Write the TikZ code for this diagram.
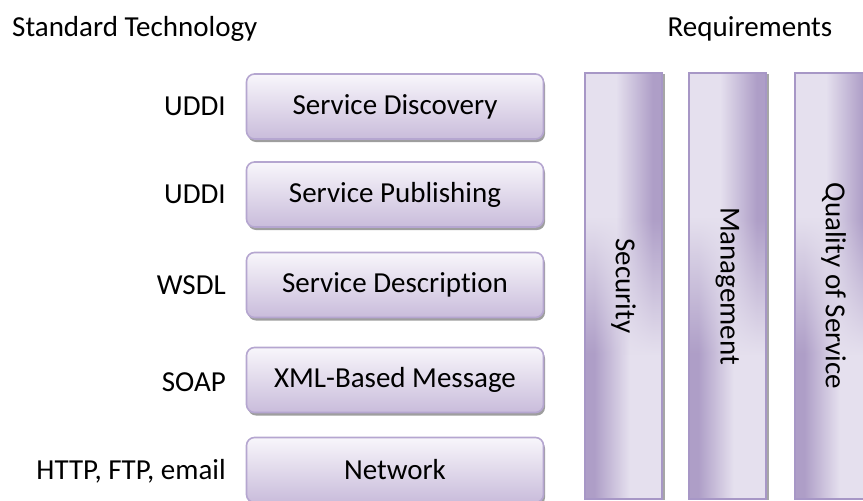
\documentclass[tikz,border=0pt]{standalone}
\usepackage{fontspec}
\setmainfont{Carlito}[Ligatures=CommonOff]
\usepackage{graphicx}
\usetikzlibrary{shadows,fadings}

% palette
\definecolor{boxtop}{HTML}{F8F6FB}
\definecolor{boxbot}{HTML}{C9BCDB}
\definecolor{boxline}{HTML}{B5A6D0}
\definecolor{colL}{HTML}{E5E0EE}
\definecolor{colD}{HTML}{AE9EC7}
\definecolor{colline}{HTML}{A797C6}

% requirement columns: lower layer runs dark->light, upper layer light->dark
\pgfdeclarehorizontalshading{colupper}{100bp}{color(0bp)=(colL); color(45bp)=(colL); color(69bp)=(colD); color(100bp)=(colD)}
\pgfdeclarehorizontalshading{collower}{100bp}{color(0bp)=(colD); color(31bp)=(colD); color(54bp)=(colL); color(100bp)=(colL)}
% upper layer is visible at the top and fades out towards the bottom
\pgfdeclareverticalshading{keeptopsh}{100bp}{color(0bp)=(pgftransparent!100); color(42bp)=(pgftransparent!100); color(58bp)=(pgftransparent!0); color(100bp)=(pgftransparent!0)}
\pgfdeclarefading{keeptop}{\pgfuseshading{keeptopsh}}

\tikzset{
  txt/.style={font=\fontsize{29}{35}\selectfont, text=black},
  layerbox/.style={txt, draw=boxline, line width=1.6pt, rounded corners=8pt,
    top color=boxtop, bottom color=boxbot,
    minimum width=297pt, minimum height=65pt, inner sep=0pt,
    drop shadow={shadow xshift=1.5pt, shadow yshift=-3pt, fill=black!38, opacity=1}},
  reqcol/.style={txt, draw=colline, line width=2pt, shade, shading=collower,
    minimum width=77pt, minimum height=426pt, inner sep=0pt,
    drop shadow={shadow xshift=2.5pt, shadow yshift=-1pt, fill=black!35, opacity=1},
    path picture={\shade[shading=colupper, path fading=keeptop]
      (path picture bounding box.south west) rectangle (path picture bounding box.north east);}},
  stdlabel/.style={txt, anchor=east, inner sep=0pt},
  heading/.style={txt, anchor=base, inner sep=0pt},
}

\begin{document}
\begin{tikzpicture}[x=1pt, y=-1pt]
  \useasboundingbox (0,0) rectangle (863,501);
  \clip (0,0) rectangle (863,501);

  % headings
  \node[heading, anchor=base west] (hstd) at (12,36) {Standard Technology};
  \node[heading] (hreq) at (750,36) {Requirements};

  % protocol stack
  \node[layerbox] (disc) at (395,106.5) {Service Discovery};
  \node[layerbox] (publ) at (395,194.5) {Service Publishing};
  \node[layerbox] (desc) at (395,285) {Service Description};
  \node[layerbox] (xmlm) at (395,380) {XML-Based Message};
  \node[layerbox] (netw) at (395,470) {Network};

  % standards beside each layer
  \node[stdlabel] (ldisc) at (226,106.5) {UDDI};
  \node[stdlabel] (lpubl) at (226,194.5) {UDDI};
  \node[stdlabel] (ldesc) at (226,285) {WSDL};
  \node[stdlabel] (lxmlm) at (226,382) {SOAP};
  \node[stdlabel] (lnetw) at (226,471) {HTTP, FTP, email};

  % cross-cutting requirements
  \node[reqcol] (sec) at (623.5,286) {\rotatebox{-90}{Security}};
  \node[reqcol] (mgt) at (727.5,286) {\rotatebox{-90}{Management}};
  \node[reqcol] (qos) at (833.5,286) {\rotatebox{-90}{Quality of Service}};
\end{tikzpicture}
\end{document}
